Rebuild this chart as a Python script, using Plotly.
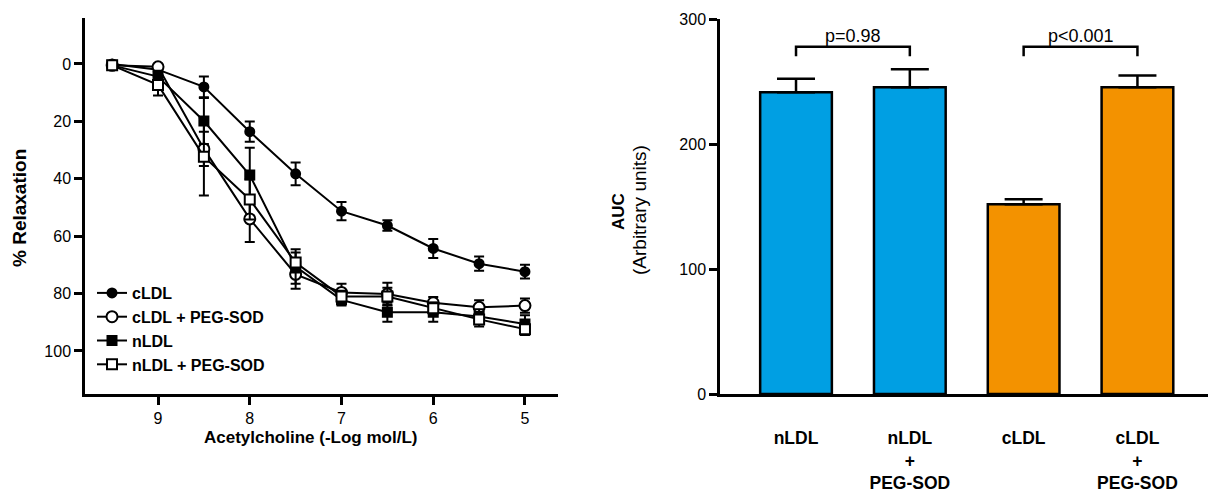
import plotly.graph_objects as go

# ---------------- data: left panel (concentration-response) ----------------
ach_log = [9.5, 9, 8.5, 8, 7.5, 7, 6.5, 6, 5.5, 5]
cLDL = [0, 2, 8, 23.6, 38.3, 51.3, 56.3, 64.3, 69.6, 72.4]
cLDL_err = [0, 1, 3.6, 3.5, 4, 3.2, 1.8, 3.3, 2.5, 2.4]
cLDL_peg = [0.5, 1, 29.6, 54, 73.3, 79.6, 80.2, 83.2, 84.8, 84.2]
cLDL_peg_err = [0, 0.5, 6, 8, 5, 3, 4, 2, 2.5, 2.5]
nLDL = [0.5, 4.4, 19.9, 38.7, 70.6, 82.2, 86.5, 86.5, 88, 90.6]
nLDL_err = [0, 2, 8, 9.5, 6, 2, 3.3, 3.3, 2.5, 3]
nLDL_peg = [0.5, 7.3, 32.3, 47.2, 69.2, 81, 81, 85.1, 89, 92.4]
nLDL_peg_err = [0, 3.7, 13.5, 7, 3.5, 2, 3, 2, 2.5, 2]
left_xticks = [9, 8, 7, 6, 5]
left_yticks = [0, 20, 40, 60, 80, 100]

# ---------------- data: right panel (AUC) ----------------
groups = ["nLDL", "nLDL<br>+<br>PEG-SOD", "cLDL", "cLDL<br>+<br>PEG-SOD"]
auc = [241.5, 245.5, 152, 245.5]
auc_err = [11, 14.5, 4, 9.5]
bar_colors = ["#009FE3", "#009FE3", "#F39200", "#F39200"]
right_yticks = [0, 100, 200, 300]
comparisons = [(0, 1, "p=0.98"), (2, 3, "p<0.001")]
bracket_top = 278
bracket_foot = 270.5
pval_y = 287

FONT = "Liberation Sans, Arial, Helvetica, sans-serif"
BLACK = "#000000"

fig = go.Figure()

series = [
    ("cLDL", cLDL, cLDL_err, "circle", BLACK, 9),
    ("cLDL + PEG-SOD", cLDL_peg, cLDL_peg_err, "circle", "white", 11),
    ("nLDL", nLDL, nLDL_err, "square", BLACK, 9),
    ("nLDL + PEG-SOD", nLDL_peg, nLDL_peg_err, "square", "white", 10),
]
for i, (name, ys, es, sym, fill, size) in enumerate(series):
    fig.add_trace(go.Scatter(
        x=ach_log, y=ys, name="<b>" + name + "</b>", mode="lines+markers",
        line=dict(color=BLACK, width=2),
        marker=dict(symbol=sym, color=fill, size=size, line=dict(color=BLACK, width=2)),
        error_y=dict(type="data", array=es, color=BLACK, thickness=2, width=5),
        legendgroup="g%d" % i,
        xaxis="x", yaxis="y",
    ))

fig.add_trace(go.Bar(
    x=list(range(len(groups))), y=auc, width=0.63,
    marker=dict(color=bar_colors, line=dict(color=BLACK, width=2.5)),
    error_y=dict(type="data", symmetric=False, array=auc_err, arrayminus=[0] * len(auc),
                 color=BLACK, thickness=2.5, width=19),
    showlegend=False, xaxis="x2", yaxis="y2",
))

shapes = []
annotations = []
for a, b, label in comparisons:
    shapes.append(dict(type="path", xref="x2", yref="y2",
                       path="M %d,%s L %d,%s L %d,%s L %d,%s" % (a, bracket_foot, a, bracket_top,
                                                             b, bracket_top, b, bracket_foot),
                       line=dict(color=BLACK, width=2.5)))
    annotations.append(dict(x=(a + b) / 2, y=pval_y, xref="x2", yref="y2", text=label,
                            showarrow=False, font=dict(size=18, color=BLACK, family=FONT),
                            xanchor="center", yanchor="middle"))

# axis titles as positioned text
annotations += [
    dict(x=19 / 1208, y=1 - 208 / 492, xref="paper", yref="paper", text="<b>% Relaxation</b>",
         textangle=-90, showarrow=False, xanchor="center", yanchor="middle",
         font=dict(size=19, color=BLACK, family=FONT)),
    dict(x=310 / 1208, y=1 - 437 / 492, xref="paper", yref="paper",
         text="<b>Acetylcholine (-Log mol/L)</b>", showarrow=False,
         xanchor="center", yanchor="middle",
         font=dict(size=17, color=BLACK, family=FONT)),
    dict(x=618 / 1208, y=1 - 212 / 492, xref="paper", yref="paper",
         text="<b>AUC</b>", textangle=-90, showarrow=False, xanchor="center", yanchor="middle",
         font=dict(size=17, color=BLACK, family=FONT)),
    dict(x=640 / 1208, y=1 - 210 / 492, xref="paper", yref="paper",
         text="(Arbitrary units)", textangle=-90, showarrow=False, xanchor="center",
         yanchor="middle", font=dict(size=19, color=BLACK, family=FONT)),
]

axis_common = dict(showline=True, linecolor=BLACK, linewidth=2.5, showgrid=False, zeroline=False,
                   ticks="outside", ticklen=8, tickwidth=2.5, tickcolor=BLACK, automargin=False,
                   tickfont=dict(size=16, color=BLACK, family=FONT))

fig.update_layout(
    width=1208, height=492,
    margin=dict(l=0, r=0, t=0, b=0, autoexpand=False),
    paper_bgcolor="white", plot_bgcolor="white",
    font=dict(family=FONT, color=BLACK),
    xaxis=dict(domain=[85 / 1208, 558 / 1208], range=[9.796, 4.64], tickvals=left_xticks,
               anchor="y", **axis_common),
    yaxis=dict(domain=[1 - 394 / 492, 1 - 18.3 / 492], range=[115, -15.9], tickvals=left_yticks,
               anchor="x", **axis_common),
    xaxis2=dict(domain=[720 / 1208, 1.0], range=[-0.668, 3.62], anchor="y2",
                tickvals=list(range(len(groups))), ticktext=["<b>%s</b>" % g for g in groups],
                showline=True, linecolor=BLACK, linewidth=2.5, showgrid=False, zeroline=False,
                ticks="", ticklabelstandoff=26, automargin=False,
                tickfont=dict(size=17.5, color=BLACK, family=FONT)),
    yaxis2=dict(domain=[1 - 394 / 492, 1 - 19.3 / 492], range=[0, 300], tickvals=right_yticks,
                anchor="x2", **axis_common),
    legend=dict(x=92 / 1208, y=1 - 276 / 492, xanchor="left", yanchor="top",
                bgcolor="rgba(0,0,0,0)", font=dict(size=16, color=BLACK, family=FONT),
                tracegroupgap=0, traceorder="grouped", itemwidth=30),
    shapes=shapes, annotations=annotations,
    bargap=0.37,
)

fig.write_html("out.html")
